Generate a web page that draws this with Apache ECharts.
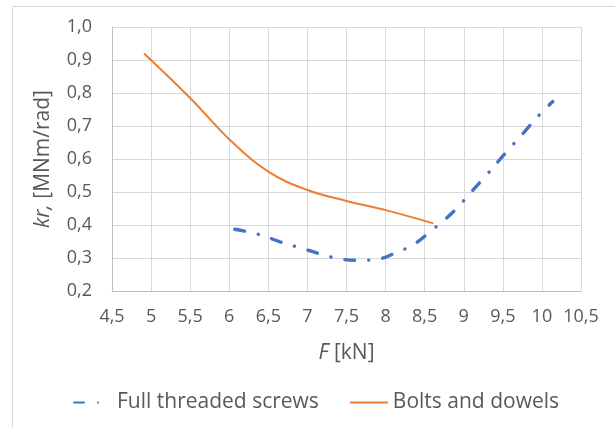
<!DOCTYPE html>
<html>
<head>
<meta charset="utf-8">
<script src="https://cdn.jsdelivr.net/npm/echarts@6/dist/echarts.min.js"></script>
<style>
  html, body { margin: 0; padding: 0; background: #ffffff; }
  #chart { width: 615px; height: 428px; }
</style>
</head>
<body>
<div id="chart"></div>
<script>
// Rotational stiffness kr versus load F for two connector types
const seriesNames = ['Full threaded screws', 'Bolts and dowels'];

// F [kN]
const screwsF  = [6.07, 6.40, 6.65, 6.89, 7.14, 7.38, 7.63, 7.89, 8.14, 8.36, 8.57, 8.76, 8.94, 9.11, 9.29, 9.45, 9.62, 9.79, 9.96, 10.14];
// kr [MNm/rad]
const screwsKr = [0.387, 0.370, 0.349, 0.332, 0.314, 0.299, 0.293, 0.296, 0.317, 0.341, 0.380, 0.417, 0.458, 0.504, 0.551, 0.595, 0.641, 0.686, 0.732, 0.774];

const boltsF  = [4.91, 5.5, 6.0, 6.5, 7.0, 7.5, 8.0, 8.61];
const boltsKr = [0.920, 0.785, 0.660, 0.562, 0.506, 0.473, 0.445, 0.405];

const xTickLabels = ['4,5', '5', '5,5', '6', '6,5', '7', '7,5', '8', '8,5', '9', '9,5', '10', '10,5'];
const yTickLabels = ['0,2', '0,3', '0,4', '0,5', '0,6', '0,7', '0,8', '0,9', '1,0'];

const xMin = 4.5, xStep = 0.5;
const yMin = 0.2, yStep = 0.1;

const pairs = (xs, ys) => xs.map((x, i) => [x, ys[i]]);

const textColor = '#595959';
const gridColor = '#d9d9d9';
const fontFamily = '"Open Sans", "Noto Sans", sans-serif';

const chart = echarts.init(document.getElementById('chart'), null, { renderer: 'canvas' });

const nameStyle = {
  fontSize: 21, color: textColor, fontFamily: fontFamily,
  rich: { i: { fontStyle: 'italic', fontSize: 21, color: textColor, fontFamily: fontFamily } }
};

chart.setOption({
  animation: false,
  backgroundColor: '#ffffff',
  textStyle: { fontFamily: fontFamily, color: textColor },
  graphic: [{
    type: 'rect',
    shape: { x: 12.5, y: 6.5, width: 640, height: 460 },
    style: { fill: 'none', stroke: '#d9d9d9', lineWidth: 1 },
    silent: true,
    z: -1
  }],
  grid: { left: 112, right: 34, top: 27, bottom: 137 },
  xAxis: {
    type: 'value',
    min: xMin, max: 10.5, interval: xStep,
    name: '{i|F} [kN]',
    nameLocation: 'middle',
    nameGap: 52,
    nameTextStyle: nameStyle,
    axisLine: { show: true, lineStyle: { color: '#bfbfbf', width: 1 } },
    axisTick: { show: false },
    axisLabel: {
      fontSize: 18, color: textColor, margin: 17,
      formatter: v => xTickLabels[Math.round((v - xMin) / xStep)]
    },
    splitLine: { show: true, lineStyle: { color: gridColor, width: 1 } }
  },
  yAxis: {
    type: 'value',
    min: yMin, max: 1.0, interval: yStep,
    name: '{i|kr,} [MNm/rad]',
    nameLocation: 'middle',
    nameRotate: 90,
    nameGap: 58,
    nameTextStyle: nameStyle,
    axisLine: { show: true, lineStyle: { color: '#bfbfbf', width: 1 } },
    axisTick: { show: false },
    axisLabel: {
      fontSize: 18, color: textColor, margin: 20,
      formatter: v => yTickLabels[Math.round((v - yMin) / yStep)]
    },
    splitLine: { show: true, lineStyle: { color: gridColor, width: 1 } }
  },
  legend: {
    bottom: 10,
    left: 68,
    itemWidth: 38,
    itemHeight: 12,
    itemGap: 30,
    itemStyle: { opacity: 0 },
    textStyle: { fontSize: 21, color: textColor, fontFamily: fontFamily },
    data: seriesNames
  },
  series: [
    {
      name: seriesNames[0],
      type: 'line',
      data: pairs(screwsF, screwsKr),
      smooth: 0.4,
      showSymbol: false,
      symbol: 'none',
      color: '#4472c4',
      lineStyle: { color: '#4472c4', width: 3.4, type: [10, 14, 0.1, 14], cap: 'round' }
    },
    {
      name: seriesNames[1],
      type: 'line',
      data: pairs(boltsF, boltsKr),
      smooth: 0.4,
      showSymbol: false,
      symbol: 'none',
      color: '#ed7d31',
      lineStyle: { color: '#ed7d31', width: 2 }
    }
  ]
});
</script>
</body>
</html>
